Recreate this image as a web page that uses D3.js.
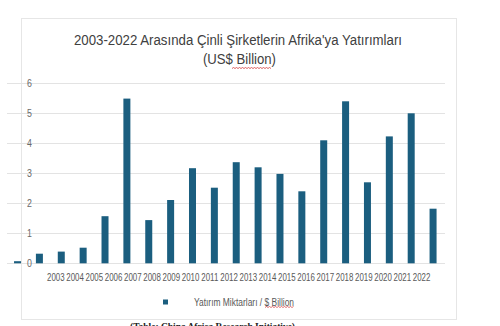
<!DOCTYPE html>
<html>
<head>
<meta charset="utf-8">
<script src="https://cdn.jsdelivr.net/npm/d3@7"></script>
<style>
  body { margin: 0; background: #fff; }
  svg { display: block; }
</style>
</head>
<body>
<svg id="chart" width="500" height="326"></svg>
<script>
// data
var years = ["2003","2004","2005","2006","2007","2008","2009","2010","2011","2012",
             "2013","2014","2015","2016","2017","2018","2019","2020","2021","2022"];
var values = [0.07, 0.32, 0.39, 0.52, 1.57, 5.49, 1.44, 2.11, 3.17, 2.52,
              3.37, 3.2, 2.98, 2.4, 4.1, 5.4, 2.7, 4.23, 5.0, 1.82];
var yTicks = [0, 1, 2, 3, 4, 5, 6];

var titleLines = ["2003-2022  Arasında  Çinli  Şirketlerin  Afrika'ya  Yatırımları", "(US$ Billion)"];
var seriesName = "Yatırım Miktarları / $ Billion";
var sourceNote = "(Table: China Africa Research Initiative)";

var barColor = "#1b5e7f";
var textColor = "#595959";
var gridColor = "#e3e3e3";
var squiggle = "#d43a3a";
var font = "Liberation Sans, Arial, sans-serif";

var svg = d3.select("#chart");

// chart frame
svg.append("rect")
  .attr("x", 21.5).attr("y", 18.5)
  .attr("width", 435).attr("height", 301)
  .attr("fill", "#fff")
  .attr("stroke", "#e6e6e6");

var x = d3.scaleBand().domain(years).range([6.6, 444]).paddingInner(0.68).paddingOuter(0.34);
var y = d3.scaleLinear().domain([0, 6]).range([263.3, 83.3]);
// category labels sit on their own, tighter spacing
var xl = d3.scalePoint().domain(years).range([55.8, 421.6]);

// gridlines
svg.append("g")
  .selectAll("line")
  .data(yTicks)
  .join("line")
    .attr("x1", 7).attr("x2", 445)
    .attr("y1", function(d){ return Math.round(y(d)) + 0.5; })
    .attr("y2", function(d){ return Math.round(y(d)) + 0.5; })
    .attr("stroke", gridColor);

// y tick labels
svg.append("g")
  .selectAll("text")
  .data(yTicks)
  .join("text")
    .attr("transform", function(d){ return "translate(32," + y(d) + ") scale(0.8,1)"; })
    .attr("dy", "0.35em")
    .attr("text-anchor", "end")
    .style("font-family", font)
    .style("font-size", "11px")
    .attr("fill", "#6a6a6a")
    .text(function(d){ return d; });

// bars
svg.append("g")
  .selectAll("rect")
  .data(values)
  .join("rect")
    .attr("x", function(d, i){ return x(years[i]); })
    .attr("width", x.bandwidth())
    .attr("y", function(d){ return y(d); })
    .attr("height", function(d){ return y(0) - y(d); })
    .attr("fill", barColor);

// x labels, squeezed horizontally like the narrow font of the original
svg.append("g")
  .selectAll("text")
  .data(years)
  .join("text")
    .attr("transform", function(d){ return "translate(" + xl(d) + ",280.5) scale(0.72,1)"; })
    .attr("text-anchor", "middle")
    .style("font-family", font)
    .style("font-size", "11px")
    .attr("fill", textColor)
    .text(function(d){ return d; });

// title
svg.append("text")
  .attr("x", 238).attr("y", 45)
  .attr("text-anchor", "middle")
  .attr("textLength", 328)
  .attr("lengthAdjust", "spacingAndGlyphs")
  .style("font-family", font)
  .style("font-size", "15.5px")
  .attr("fill", "#404040")
  .text(titleLines[0]);

svg.append("text")
  .attr("x", 239.5).attr("y", 64)
  .attr("text-anchor", "middle")
  .attr("textLength", 73)
  .attr("lengthAdjust", "spacingAndGlyphs")
  .style("font-family", font)
  .style("font-size", "15.5px")
  .attr("fill", "#404040")
  .text(titleLines[1]);

function zigzag(x0, x1, yy) {
  var p = d3.path();
  p.moveTo(x0, yy);
  var up = true;
  for (var xx = x0 + 1.5; xx <= x1; xx += 1.5) {
    p.lineTo(xx, up ? yy - 1 : yy);
    up = !up;
  }
  return p.toString();
}

svg.append("path")
  .attr("d", zigzag(232, 271, 68.5))
  .attr("fill", "none")
  .attr("stroke", squiggle)
  .attr("stroke-width", 0.8);

// legend
svg.append("rect")
  .attr("x", 163).attr("y", 299.5)
  .attr("width", 5).attr("height", 5)
  .attr("fill", barColor);

svg.append("text")
  .attr("x", 194).attr("y", 302)
  .attr("dy", "0.35em")
  .attr("textLength", 100)
  .attr("lengthAdjust", "spacingAndGlyphs")
  .style("font-family", font)
  .style("font-size", "10px")
  .attr("fill", textColor)
  .text(seriesName);

svg.append("path")
  .attr("d", zigzag(265, 294, 307.5))
  .attr("fill", "none")
  .attr("stroke", squiggle)
  .attr("stroke-width", 0.7);

// source line, cut off by the picture edge as in the original
svg.append("text")
  .attr("x", 130).attr("y", 329.5)
  .attr("textLength", 165)
  .attr("lengthAdjust", "spacingAndGlyphs")
  .style("font-family", "Liberation Serif, serif")
  .style("font-weight", "bold")
  .style("font-size", "11px")
  .attr("fill", "#222")
  .text(sourceNote);
</script>
</body>
</html>
